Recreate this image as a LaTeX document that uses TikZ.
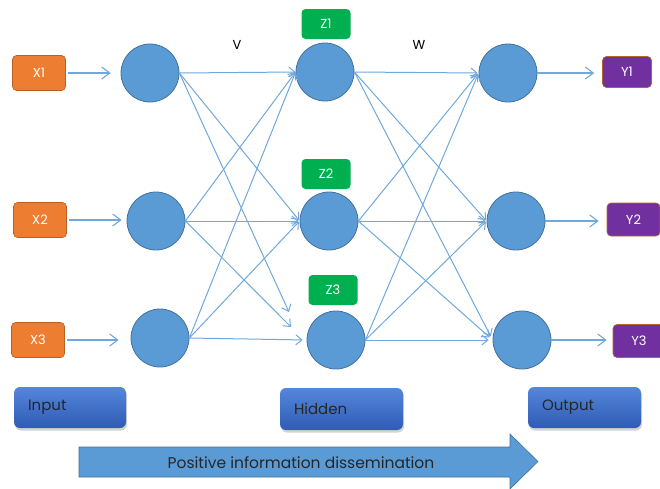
\documentclass[tikz,border=0pt]{standalone}
\usepackage{fontspec}
\setmainfont{Poppins}
\usetikzlibrary{arrows.meta,shadows}
\definecolor{nodeblue}{HTML}{5B9BD5}
\definecolor{nodeedge}{HTML}{41719C}
\definecolor{linkblue}{HTML}{6FA8DC}
\definecolor{xorange}{HTML}{ED7D31}
\definecolor{xedge}{HTML}{B85F22}
\definecolor{zgreen}{HTML}{00B050}
\definecolor{ypurple}{HTML}{7030A0}
\definecolor{yedge}{HTML}{B4652A}
\definecolor{btop}{HTML}{5586DC}
\definecolor{bbot}{HTML}{2F5CB4}
\definecolor{flowfill}{HTML}{5B9BD5}
\definecolor{flowedge}{HTML}{41719C}
\begin{document}
\begin{tikzpicture}[x=1pt,y=-1pt,
  neuron/.style={circle, fill=nodeblue, draw=nodeedge, line width=0.8pt, minimum size=58pt, inner sep=0pt},
  tagbox/.style={rounded corners=4pt, text=white, inner sep=0pt, font=\fontsize{13}{15}\selectfont},
  xbox/.style={tagbox, fill=xorange, draw=xedge, line width=0.6pt, minimum width=53pt, minimum height=35pt},
  zbox/.style={tagbox, fill=zgreen, minimum width=49pt, minimum height=30pt},
  ybox/.style={tagbox, fill=ypurple, draw=yedge, line width=0.6pt, minimum height=33pt},
  layerbox/.style={rounded corners=6pt, top color=btop, bottom color=bbot, draw=none,
    drop shadow={shadow xshift=1pt, shadow yshift=-2.5pt, opacity=0.35},
    inner xsep=14pt, align=left, text=black!85, font=\fontsize{15}{18}\selectfont},
  link/.style={draw=linkblue, line width=1pt, -{Straight Barb[length=6pt,width=10pt]}},
  feed/.style={draw=linkblue, line width=1.1pt, -{Straight Barb[length=8pt,width=12pt]}},
  weightlabel/.style={font=\fontsize{13}{15}\selectfont, text=black}
]
\useasboundingbox (0,0) rectangle (660,488);

% input tags
\node[xbox] (X1) at (39,73) {X1};
\node[xbox] (X2) at (40,220) {X2};
\node[xbox] (X3) at (38,340) {X3};

% neurons
\node[neuron] (I1) at (150,73) {};
\node[neuron] (I2) at (156,221) {};
\node[neuron] (I3) at (160,338) {};
\node[neuron] (H1) at (325,72) {};
\node[neuron] (H2) at (329,221) {};
\node[neuron] (H3) at (336,340) {};
\node[neuron] (O1) at (508,73) {};
\node[neuron] (O2) at (516,221) {};
\node[neuron] (O3) at (522,340) {};

% hidden tags
\node[zbox] (Z1) at (326,24) {Z1};
\node[zbox] (Z2) at (326,174) {Z2};
\node[zbox] (Z3) at (333,290) {Z3};

% output tags
\node[ybox, minimum width=49pt, minimum height=31pt] (Y1) at (627,72) {Y1};
\node[ybox, minimum width=53pt] (Y2) at (633.5,219.5) {Y2};
\node[ybox, minimum width=52pt] (Y3) at (639,341) {Y3};

% weight labels
\node[weightlabel] (V) at (237,45) {V};
\node[weightlabel] (W) at (419,45) {W};

% input feeds
\draw[feed, shorten <=2pt, shorten >=10pt] (X1.east) -- (X1.east -| I1.west);
\draw[feed, shorten <=2pt, shorten >=5pt] (X2.east) -- (X2.east -| I2.west);
\draw[feed, shorten <=2pt, shorten >=12pt] (X3.east) -- (X3.east -| I3.west);

% input -> hidden
\coordinate (h3a) at (289,312);
\coordinate (h3b) at (291,327);
\foreach \s in {I1,I2,I3}{
  \draw[link] (\s.east) -- (H1.west);
  \draw[link, shorten >=1pt] (\s.east) -- (H2.west);
}
\draw[link] (I1.east) -- (h3a);
\draw[link] (I2.east) -- (h3b);
\draw[link, shorten >=4pt] (I3.east) -- (H3.west);

% hidden -> output
\foreach \s in {H1,H2,H3}{
  \draw[link, shorten >=1pt] (\s.east) -- (O1.west);
  \draw[link, shorten >=1pt] (\s.east) -- (O2.west);
  \draw[link, shorten >=4pt] (\s.east) -- (O3.west);
}

% output feeds
\draw[feed, shorten >=8pt] (O1.east) -- (O1.east -| Y1.west);
\draw[feed, shorten >=8pt] (O2.east) -- (O2.east -| Y2.west);
\draw[feed, shorten >=6pt] (O3.east) -- (O3.east -| Y3.west);

% layer boxes
\node[layerbox, text width=84pt, minimum height=41pt] (Lin) at (70,407.5) {Input};
\node[layerbox, text width=95pt, minimum height=42pt] (Lhid) at (341.5,409) {Hidden};
\node[layerbox, text width=85pt, minimum height=41pt] (Lout) at (584.5,407.5) {Output};

% flow arrow
\fill[flowfill, draw=flowedge, line width=0.6pt]
  (79,447) -- (510,447) -- (510,434) -- (538,461.5) -- (510,489) -- (510,477) -- (79,477) -- cycle;
\node[font=\fontsize{15.5}{18}\selectfont, text=black!85] (flow) at (301,462.5) {Positive information dissemination};
\end{tikzpicture}
\end{document}
